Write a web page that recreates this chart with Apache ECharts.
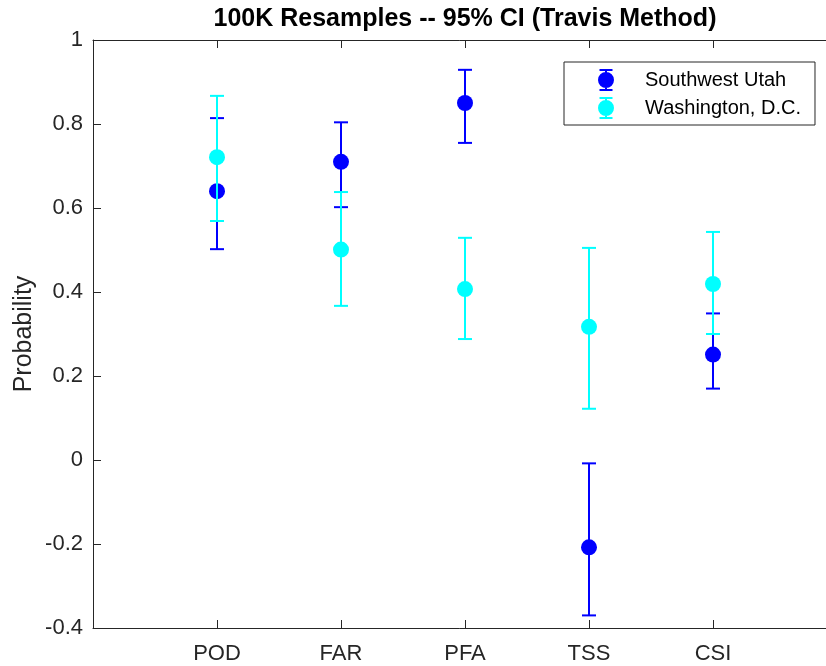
<!DOCTYPE html>
<html>
<head>
<meta charset="utf-8">
<script src="https://cdn.jsdelivr.net/npm/echarts@6/dist/echarts.min.js"></script>
<style>
html,body{margin:0;padding:0;background:#fff;}
#chart{width:826px;height:666px;}
</style>
</head>
<body>
<div id="chart"></div>
<script>
const categories = ['POD', 'FAR', 'PFA', 'TSS', 'CSI'];
const seriesNames = ['Southwest Utah', 'Washington, D.C.'];
const utahMean  = [0.640, 0.710, 0.850, -0.208, 0.251];
const utahLower = [0.502, 0.602, 0.755, -0.370, 0.170];
const utahUpper = [0.814, 0.804, 0.929, -0.008, 0.349];
const dcMean  = [0.721, 0.501, 0.407, 0.317, 0.419];
const dcLower = [0.569, 0.367, 0.288, 0.122, 0.300];
const dcUpper = [0.867, 0.638, 0.529, 0.505, 0.543];
const yTicks = [-0.4, -0.2, 0, 0.2, 0.4, 0.6, 0.8, 1];

const FONT = "'Liberation Sans', Arial, Helvetica, sans-serif";
const AXIS_COLOR = '#262626';
const colors = ['#0000ff', '#00ffff'];

function buildData(mean, lo, hi) {
  return categories.map((c, i) => [i + 1, lo[i], hi[i], mean[i]]);
}

function makeRender(color) {
  return function (params, api) {
    const x = api.value(0);
    const pLo = api.coord([x, api.value(1)]);
    const pHi = api.coord([x, api.value(2)]);
    const pM = api.coord([x, api.value(3)]);
    const cap = 7;
    const st = { stroke: color, lineWidth: 2, fill: null };
    return {
      type: 'group',
      children: [
        { type: 'line', shape: { x1: pLo[0], y1: pLo[1], x2: pHi[0], y2: pHi[1] }, style: st },
        { type: 'line', shape: { x1: pLo[0] - cap, y1: pLo[1], x2: pLo[0] + cap, y2: pLo[1] }, style: st },
        { type: 'line', shape: { x1: pHi[0] - cap, y1: pHi[1], x2: pHi[0] + cap, y2: pHi[1] }, style: st },
        { type: 'circle', shape: { cx: pM[0], cy: pM[1], r: 8 }, style: { fill: color, stroke: null } }
      ]
    };
  };
}

const legendIcon = 'path://M1.5,0H14.5V2H1.5Z M7,0H9V22H7Z M1.5,20H14.5V22H1.5Z M0,11A8,8 0 1,1 16,11A8,8 0 1,1 0,11Z';

const chart = echarts.init(document.getElementById('chart'), null, { renderer: 'canvas' });
chart.setOption({
  animation: false,
  backgroundColor: '#ffffff',
  title: {
    text: '100K Resamples -- 95% CI (Travis Method)',
    left: 465,
    textAlign: 'center',
    top: 7,
    padding: 0,
    textStyle: { fontFamily: FONT, fontSize: 25, fontWeight: 'bold', color: '#000000' }
  },
  legend: {
    orient: 'vertical',
    left: 564,
    top: 62,
    padding: [7, 14, 6, 34],
    itemWidth: 16,
    itemHeight: 22,
    itemGap: 6,
    borderColor: AXIS_COLOR,
    borderWidth: 1,
    backgroundColor: '#ffffff',
    textStyle: { fontFamily: FONT, fontSize: 20, color: '#000000', padding: [0, 0, 0, 26] },
    data: [
      { name: seriesNames[0], icon: legendIcon },
      { name: seriesNames[1], icon: legendIcon }
    ]
  },
  grid: { left: 93, width: 744, top: 40, bottom: 38, containLabel: false, outerBoundsMode: 'none' },
  xAxis: [
    {
      type: 'value', min: 0, max: 6, interval: 1, position: 'bottom',
      splitLine: { show: false },
      axisLine: { show: true, onZero: false, lineStyle: { color: AXIS_COLOR, width: 1 } },
      axisTick: { show: true, inside: true, length: 8, customValues: [1, 2, 3, 4, 5], lineStyle: { color: AXIS_COLOR } },
      axisLabel: {
        customValues: [1, 2, 3, 4, 5],
        margin: 15,
        fontFamily: FONT, fontSize: 22, color: AXIS_COLOR,
        formatter: function (v) { return categories[Math.round(v) - 1] || ''; }
      }
    },
    {
      type: 'value', min: 0, max: 6, interval: 1, position: 'top',
      splitLine: { show: false },
      axisLine: { show: true, onZero: false, lineStyle: { color: AXIS_COLOR, width: 1 } },
      axisTick: { show: true, inside: true, length: 8, customValues: [1, 2, 3, 4, 5], lineStyle: { color: AXIS_COLOR } },
      axisLabel: { show: false }
    }
  ],
  yAxis: {
    type: 'value', min: -0.4, max: 1, interval: 0.2,
    name: 'Probability',
    nameLocation: 'middle',
    nameGap: 56,
    nameMoveOverlap: false,
    nameRotate: 90,
    nameTextStyle: { fontFamily: FONT, fontSize: 25, color: AXIS_COLOR },
    splitLine: { show: false },
    axisLine: { show: true, onZero: false, lineStyle: { color: AXIS_COLOR, width: 1 } },
    axisTick: { show: true, inside: true, length: 8, lineStyle: { color: AXIS_COLOR } },
    axisLabel: {
      margin: 10,
      fontFamily: FONT, fontSize: 22, color: AXIS_COLOR,
      formatter: function (v) { return String(parseFloat(v.toFixed(1))); }
    }
  },
  series: [
    {
      name: seriesNames[0], type: 'custom', xAxisIndex: 0,
      itemStyle: { color: colors[0] },
      renderItem: makeRender(colors[0]),
      encode: { x: 0, y: [1, 2, 3] },
      data: buildData(utahMean, utahLower, utahUpper),
      z: 2
    },
    {
      name: seriesNames[1], type: 'custom', xAxisIndex: 0,
      itemStyle: { color: colors[1] },
      renderItem: makeRender(colors[1]),
      encode: { x: 0, y: [1, 2, 3] },
      data: buildData(dcMean, dcLower, dcUpper),
      z: 3
    }
  ]
});
</script>
</body>
</html>
